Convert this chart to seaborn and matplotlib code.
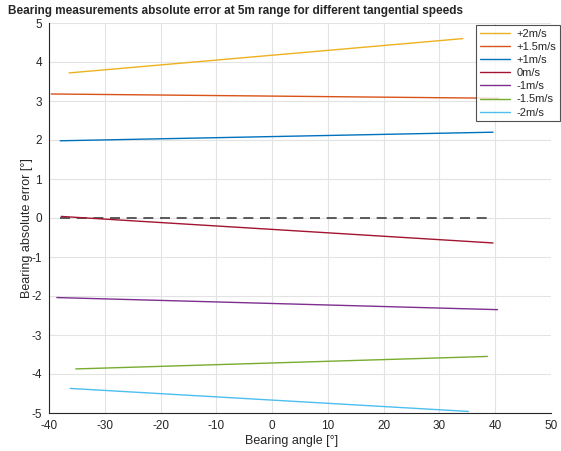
import numpy as np
import pandas as pd
import matplotlib
matplotlib.use("Agg")
import matplotlib.pyplot as plt
import seaborn as sns

speeds = ["+2m/s", "+1.5m/s", "+1m/s", "0m/s", "-1m/s", "-1.5m/s", "-2m/s"]
colors = ["#EDB120", "#D95319", "#0072BD", "#A2142F", "#7E2F8E", "#77AC30", "#4DBEEE"]

angle_p2 = [-36.4, 34.2]
err_p2 = [3.72, 4.60]
angle_p15 = [-39.6, 40.6]
err_p15 = [3.18, 3.07]
angle_p1 = [-38.0, 39.6]
err_p1 = [1.98, 2.20]
angle_0 = [-37.8, 39.6]
err_0 = [0.04, -0.64]
angle_m1 = [-38.6, 40.4]
err_m1 = [-2.04, -2.35]
angle_m15 = [-35.2, 38.6]
err_m15 = [-3.87, -3.55]
angle_m2 = [-36.2, 35.2]
err_m2 = [-4.37, -4.96]

ref_angle = [-38.0, 39.6]
ref_err = [0.0, 0.0]

angles = [angle_p2, angle_p15, angle_p1, angle_0, angle_m1, angle_m15, angle_m2]
errs = [err_p2, err_p15, err_p1, err_0, err_m1, err_m15, err_m2]

rows = []
for s, a, e in zip(speeds, angles, errs):
    for ai, ei in zip(a, e):
        rows.append({"angle": ai, "err": ei, "speed": s})
df = pd.DataFrame(rows)

sns.set_style("white")
plt.rcParams["font.family"] = ["Liberation Sans", "DejaVu Sans"]
plt.rcParams["axes.unicode_minus"] = False

fig = plt.figure(figsize=(5.61, 4.51), dpi=100)
ax = fig.add_axes([49/561, 1 - 413/451, (551-49)/561, (413-23)/451])

sns.lineplot(data=df, x="angle", y="err", hue="speed", hue_order=speeds,
             palette=colors, estimator=None, sort=False, linewidth=1.0, ax=ax)
ax.plot(ref_angle, ref_err, color="#404040", linestyle=(0, (6, 4)), linewidth=1.2, zorder=1)

ax.set_xlim(-40, 50)
ax.set_ylim(-5, 5)
ax.set_xticks(np.arange(-40, 51, 10))
ax.set_yticks(np.arange(-5, 6, 1))
ax.grid(True, color="#e3e3e3", linewidth=0.8)
ax.set_axisbelow(True)
for sp in ["top", "right"]:
    ax.spines[sp].set_visible(False)
for sp in ["left", "bottom"]:
    ax.spines[sp].set_color("#262626")
    ax.spines[sp].set_linewidth(0.8)
ax.tick_params(direction="in", length=4, width=0.8, colors="#262626", labelsize=8.5, pad=5)
ax.set_xlabel("Bearing angle [°]", fontsize=9.0, color="#262626")
ax.set_ylabel("Bearing absolute error [°]", fontsize=9.0, color="#262626")
ax.xaxis.set_label_coords(0.484, -0.056)
ax.yaxis.set_label_coords(-0.032, 0.474)

leg = ax.legend(loc="upper left", fontsize=8, frameon=True, fancybox=False, edgecolor="#262626",
                handlelength=2.7, labelspacing=0.28, borderpad=0.35, handletextpad=0.6,
                borderaxespad=0)
leg.set_bbox_to_anchor((476/561, 1 - 25/451), transform=fig.transFigure)
leg.get_frame().set_linewidth(0.8)

fig.text(8/561, 1 - 11/451, "Bearing measurements absolute error at 5m range for different tangential speeds",
         fontsize=8.5, fontweight="bold", va="center", ha="left")

fig.savefig("out.png", dpi=100)
